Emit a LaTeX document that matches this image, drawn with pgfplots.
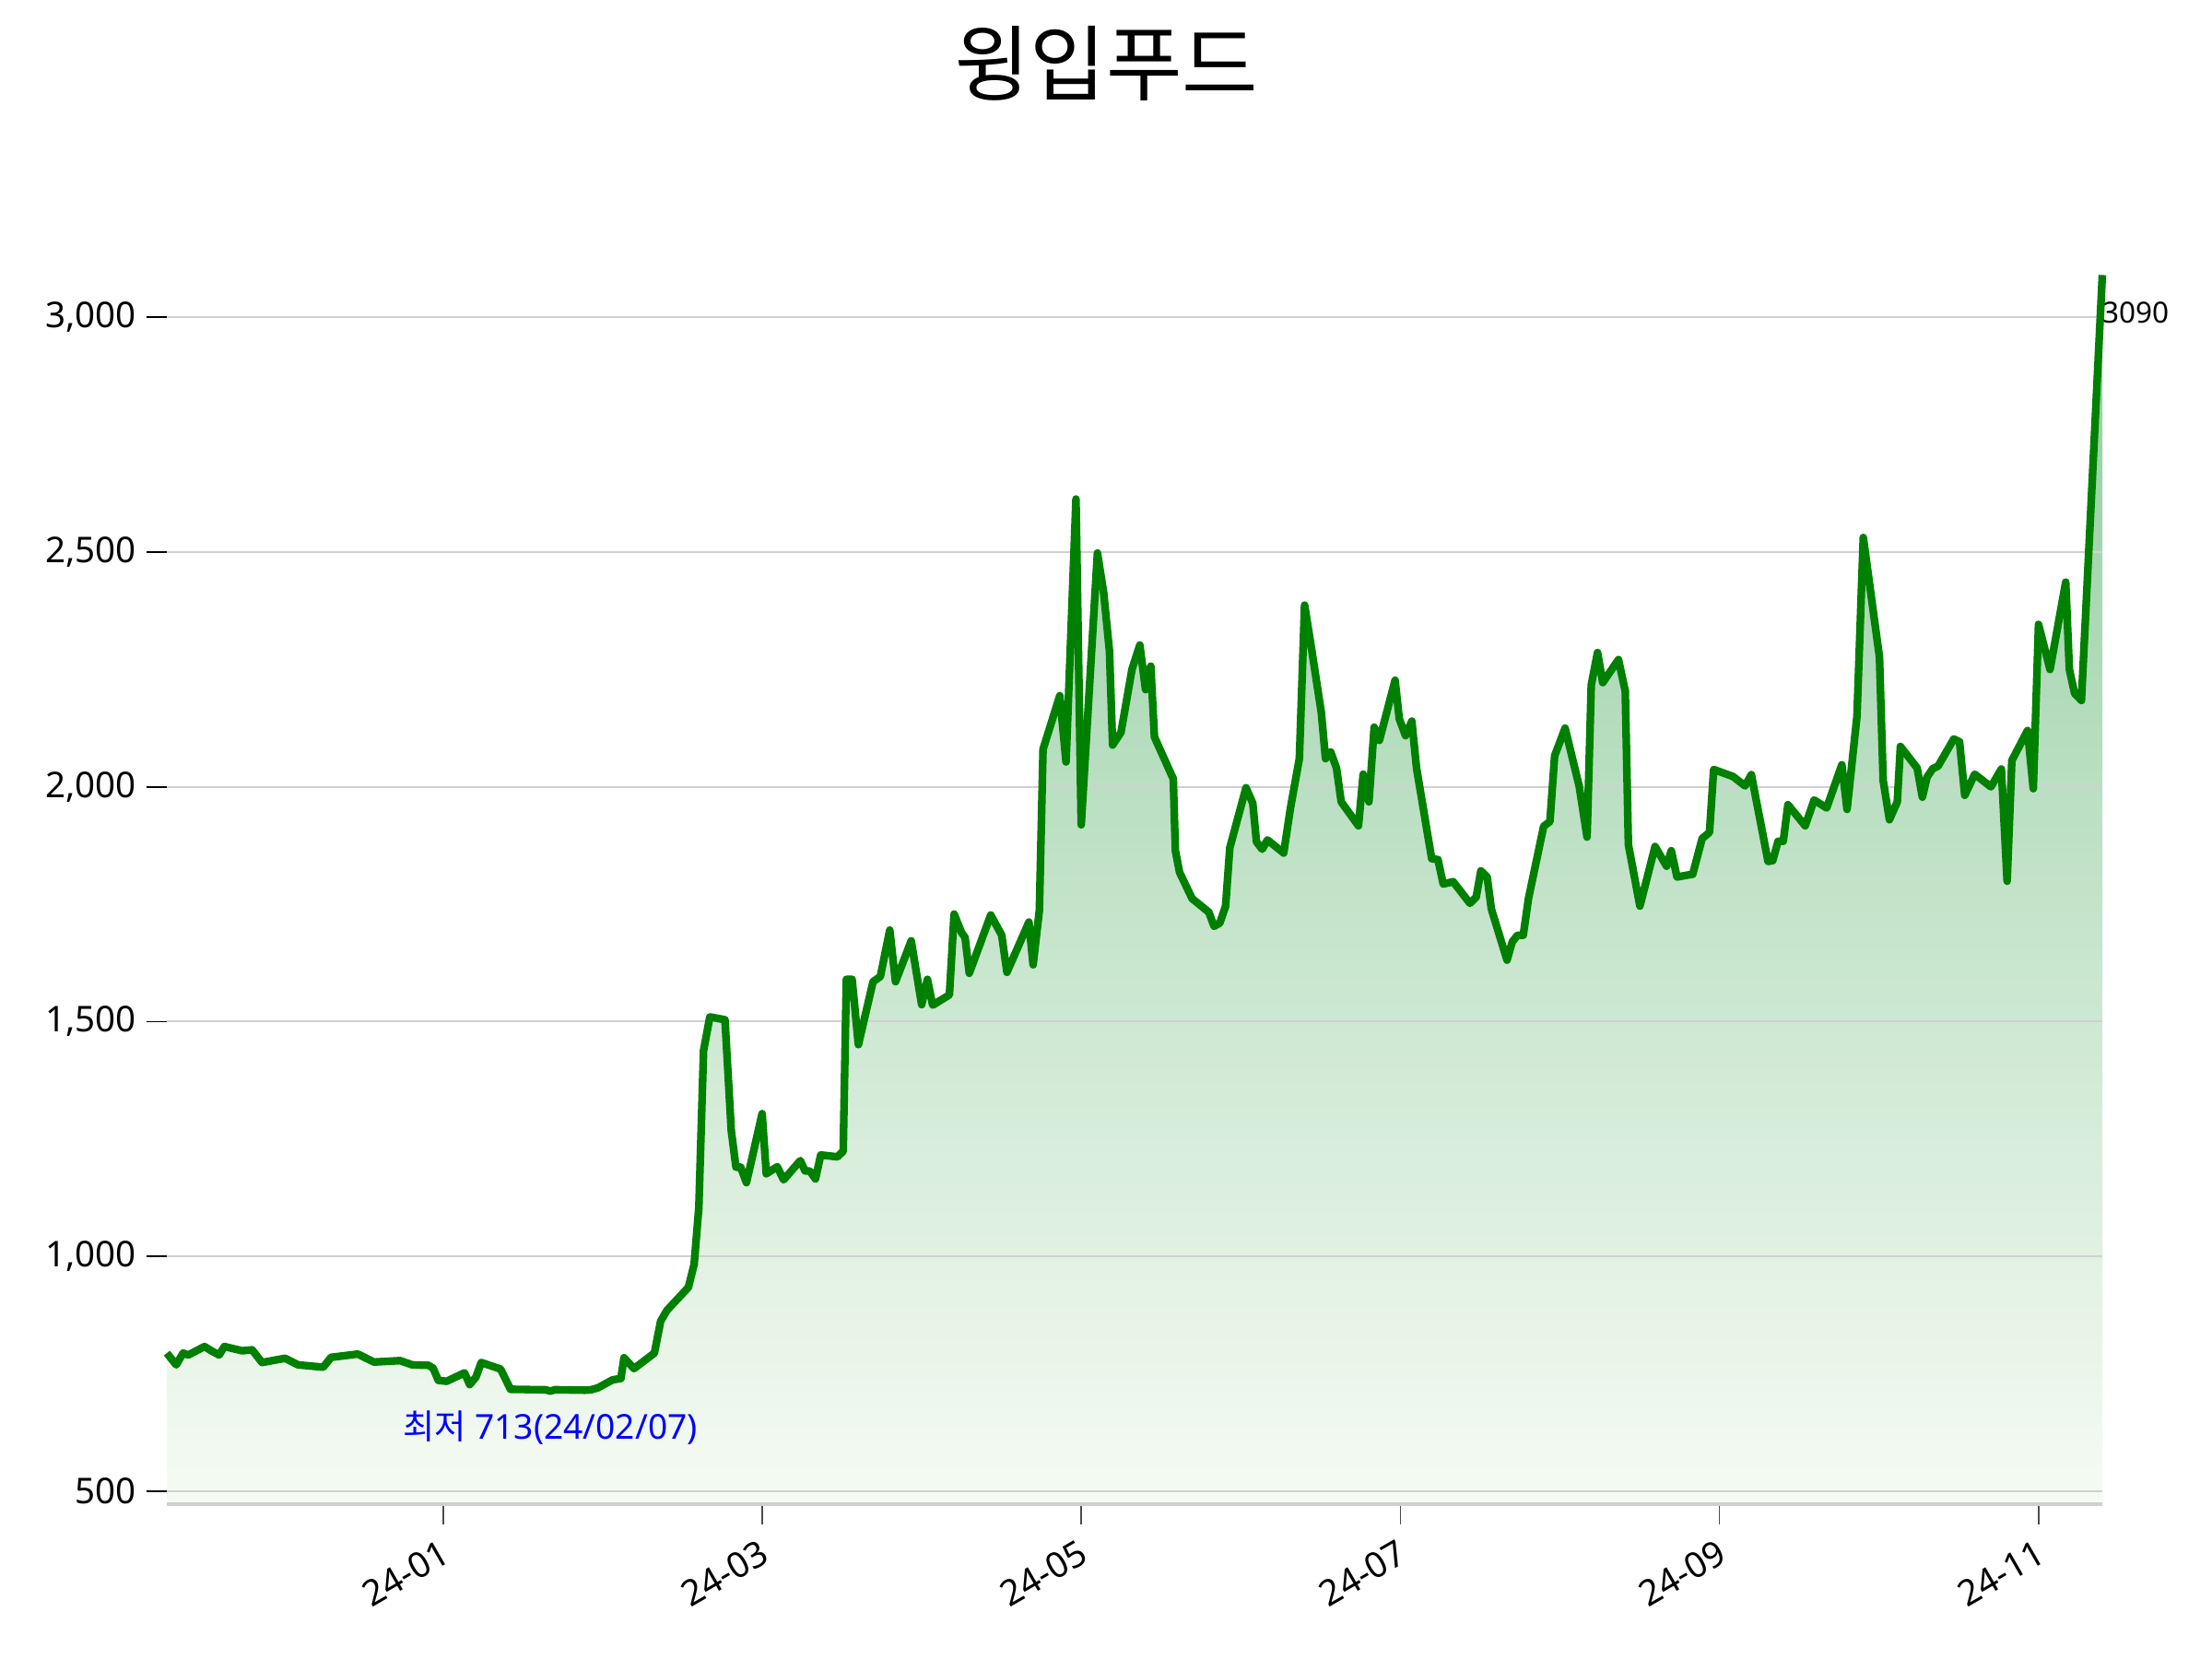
\documentclass[border=0pt]{standalone}
\usepackage{pgfplots}
\usepackage{pgfplotstable}
\pgfplotsset{compat=1.18}
\usepackage{fontspec}
\setmainfont{Noto Sans}
\newfontfamily\kr{Noto Sans CJK KR}
\definecolor{lg}{RGB}{0,128,0}
\definecolor{topfill}{RGB}{143,203,158}
\definecolor{botfill}{RGB}{246,251,244}
\definecolor{gridc}{RGB}{208,208,208}
\pgfplotstableread{
x y
-52.8 794
-51.0 769
-49.7 794
-48.7 790
-45.6 808
-44.3 799
-42.8 790
-41.8 808
-38.4 799
-36.5 801
-34.6 774
-30.2 783
-27.7 769
-22.9 764
-21.4 785
-16.3 792
-13.2 775
-8.2 778
-5.9 769
-2.8 768
-1.9 762
-0.9 736
0.7 734
4.1 752
5.1 727
6.3 743
7.3 774
11.0 760
12.9 717
18.6 716
19.6 716
20.5 713
21.4 716
27.1 715
28.3 716
29.6 720
32.4 737
34.0 740
34.6 784
36.5 761
40.4 794
41.6 862
42.8 885
46.9 934
48.0 983
48.9 1104
49.8 1438
51.0 1510
53.9 1504
55.1 1268
56.0 1190
56.9 1190
58.0 1157
61.0 1304
61.8 1176
63.9 1191
65.1 1163
68.3 1204
69.2 1182
70.1 1182
71.2 1165
72.2 1216
75.4 1212
76.5 1224
77.1 1590
78.2 1590
79.4 1451
82.2 1585
83.6 1596
85.4 1695
86.5 1585
89.5 1672
91.5 1536
92.6 1590
93.6 1535
96.8 1557
97.7 1729
99.1 1690
99.8 1679
100.6 1603
104.7 1727
106.8 1684
107.8 1605
112.0 1712
112.8 1621
114.0 1737
114.7 2080
117.9 2194
119.1 2053
121.0 2613
122.0 1919
125.1 2498
126.3 2413
127.4 2289
128.0 2089
129.6 2116
131.7 2250
133.2 2302
134.3 2207
135.3 2257
136.0 2106
139.6 2017
140.0 1864
140.8 1818
143.2 1762
146.4 1733
147.4 1703
148.5 1710
149.6 1746
150.4 1870
153.5 1998
154.8 1965
155.5 1883
156.6 1867
157.6 1887
160.7 1859
162.0 1955
163.7 2060
164.7 2387
166.1 2289
167.9 2158
168.7 2060
169.7 2074
170.8 2040
171.7 1968
175.0 1917
175.9 2027
177.0 1968
178.0 2127
179.0 2099
182.0 2227
182.8 2145
184.0 2109
185.2 2140
186.1 2040
189.0 1847
190.2 1845
191.2 1793
193.1 1798
196.3 1752
197.5 1765
198.4 1821
199.6 1808
200.4 1740
203.4 1631
204.4 1670
205.4 1684
206.5 1684
207.5 1762
210.4 1916
211.6 1926
212.5 2066
214.5 2125
217.2 2001
218.7 1893
219.5 2217
220.7 2286
221.7 2222
224.7 2271
226.0 2204
226.6 1877
228.8 1746
231.7 1873
233.9 1831
234.8 1864
235.9 1808
238.9 1814
240.7 1890
242.1 1903
242.9 2037
246.6 2022
248.9 2002
250.1 2026
253.3 1841
254.2 1843
255.2 1884
256.2 1884
257.1 1962
260.4 1917
262.1 1972
264.5 1955
267.4 2047
268.4 1952
270.3 2151
271.5 2531
274.6 2276
275.3 2014
276.5 1930
278.0 1968
278.6 2086
281.8 2040
282.8 1978
283.7 2021
284.8 2039
285.8 2044
288.8 2102
289.9 2096
290.9 1982
292.8 2027
295.9 2000
297.9 2038
299.0 1799
299.9 2056
302.9 2120
304.0 1996
305.0 2346
307.2 2250
310.2 2436
310.9 2250
311.9 2199
313.2 2184
317.2 3090
}\linedata
\begin{document}
\begin{tikzpicture}
\begin{axis}[
  at={(54.3bp,50.4bp)}, anchor=south west,
  scale only axis, width=630bp, height=401.6bp,
  xmin=-52.8, xmax=317.2, ymin=472.3, ymax=3100,
  set layers, clip=false,
  axis x line*=bottom, axis y line*=left,
  y axis line style={draw=none},
  x axis line style={draw=gridc, line width=1.1bp},
  tick align=outside,
  major tick length=6.5bp,
  ytick={500,1000,1500,2000,2500,3000},
  xtick={0,61,122,183,244,305},
  xticklabels={24-01,24-03,24-05,24-07,24-09,24-11},
  ytick style={draw=black, line width=0.5bp},
  xtick style={draw=black!70, line width=0.5bp},
  ymajorgrids, grid style={draw=gridc, line width=0.6bp},
  tick label style={font=\fontsize{11.6}{14}\selectfont},
  xticklabel style={rotate=30, anchor=north east},
  /pgf/number format/.cd, 1000 sep={,}, assume math mode=true,
]
\addplot[draw=none, top color=topfill, bottom color=botfill, on layer=axis background]
  table[x=x,y=y] {\linedata} -- (axis cs:317.2,472.3) -- (axis cs:-52.8,472.3) -- cycle;
\addplot[lg, line width=2.5bp, line join=round] table[x=x,y=y] {\linedata};
\node[anchor=center, text=blue, font=\fontsize{11.2}{13}\selectfont] at (axis cs:20.5,635) {{\kr 최저} 713(24/02/07)};
\node[anchor=west, inner sep=0pt, font=\fontsize{9.5}{11}\selectfont] at (axis cs:317.2,3009) {3090};
\end{axis}
\node[font=\kr\fontsize{27}{31}\selectfont] at (360bp,519.3bp) {윙입푸드};
\pgfresetboundingbox
\path[use as bounding box] (0,0) rectangle (720bp,540bp);
\end{tikzpicture}
\end{document}
